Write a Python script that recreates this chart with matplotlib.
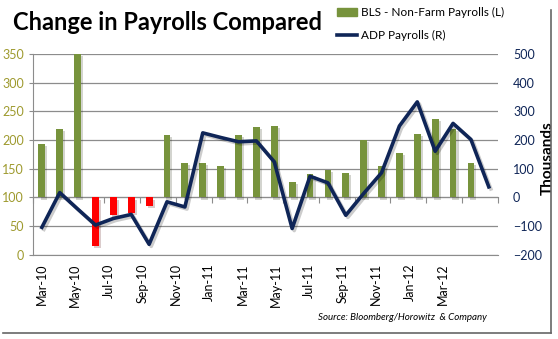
import numpy as np
import matplotlib.pyplot as plt
import matplotlib.patheffects as pe
from matplotlib.lines import Line2D
from matplotlib.patches import Patch

plt.rcParams['font.family'] = ['Lato', 'DejaVu Sans']

months = ['Mar-10', 'Apr-10', 'May-10', 'Jun-10', 'Jul-10', 'Aug-10', 'Sep-10',
          'Oct-10', 'Nov-10', 'Dec-10', 'Jan-11', 'Feb-11', 'Mar-11', 'Apr-11',
          'May-11', 'Jun-11', 'Jul-11', 'Aug-11', 'Sep-11', 'Oct-11', 'Nov-11',
          'Dec-11', 'Jan-12', 'Feb-12', 'Mar-12', 'Apr-12']
# BLS bars, read on the left axis (drawn from the 100 line)
bls = [193, 219, 350, 16, 70, 73, 86, 209, 160, 160, 155, 209, 223, 225,
       127, 141, 148, 143, 200, 155, 177, 210, 236, 220, 160, np.nan]
# ADP line, right axis
adp = [-104, 17, -40, -96, -73, -59, -163, -15, -33, 225, 209, 194, 197, 124,
       -108, 74, 51, -62, 14, 86, 249, 333, 161, 258, 202, 37]
tick_labels = months[::2]

green = '#77933C'
red = '#FF0000'
navy = '#0F2557'
olive = '#9E9A2E'
grid = '#8C8C8C'

fig = plt.figure(figsize=(5.58, 3.39), dpi=100)
ax = fig.add_axes([0.059, 0.248, 0.833, 0.593])

x = np.arange(len(months))
bls = np.array(bls)
cols = [green if v >= 100 else red for v in np.nan_to_num(bls, nan=100)]
ax.bar(x, bls - 100, bottom=100, width=0.38, color=cols,
       path_effects=[pe.SimplePatchShadow(offset=(1.5, -1.5), alpha=0.2), pe.Normal()])

ax.set_xlim(-0.5, len(months) - 0.5)
ax.set_ylim(0, 350)
ax.set_yticks(range(0, 351, 50))
ax.grid(axis='y', color=grid, lw=0.9)
ax.set_axisbelow(True)
for s in ['top', 'right']:
    ax.spines[s].set_visible(False)
ax.spines['left'].set_color(grid)
ax.spines['bottom'].set_color(grid)
ax.tick_params(axis='y', color=grid, labelcolor=olive, length=3, labelsize=9)

# labels every other month (Excel squeezes them a bit)
ax.set_xticks(np.arange(len(tick_labels)) * 1.87)
ax.set_xticklabels(tick_labels, rotation=90)
ax.tick_params(axis='x', length=0, labelsize=9, pad=6)

# category axis crossing at 100
sec = ax.secondary_xaxis(100 / 350)
sec.set_xticks(np.arange(-0.5, len(months), 2))
sec.set_xticklabels([])
sec.tick_params(direction='out', length=4, color=grid)
sec.spines['bottom'].set_color(grid)

ax2 = ax.twinx()
ax2.plot(x, adp, color=navy, lw=2.6, solid_joinstyle='round',
         path_effects=[pe.SimpleLineShadow(offset=(1.5, -1.5), alpha=0.2), pe.Normal()])
ax2.set_ylim(-200, 500)
ax2.set_yticks(range(-200, 501, 100))
ax2.tick_params(axis='y', length=0, labelcolor=navy, labelsize=9, pad=11)
for s in ax2.spines.values():
    s.set_visible(False)
ax2.set_ylabel('Thousands', fontweight='bold', fontsize=11)
ax2.yaxis.set_label_coords(1.092, 0.48)

fig.text(0.023, 0.935, 'Change in Payrolls Compared', fontsize=17,
         fontweight='bold', va='center')

handles = [Patch(color=green), Line2D([], [], color=navy, lw=2.6)]
fig.legend(handles, ['BLS - Non-Farm Payrolls (L)', 'ADP Payrolls (R)'],
           loc='upper left', bbox_to_anchor=(0.585, 1.01), frameon=False,
           fontsize=8.5, handlelength=1.7, labelspacing=1.0, handletextpad=0.3)

fig.text(0.873, 0.056, 'Source: Bloomberg/Horowitz  & Company', ha='right',
         style='italic', fontsize=7)

# frame shadow on the right and bottom
fig.add_artist(Line2D([0.988, 0.988], [0.017, 0.97], transform=fig.transFigure,
                      color='#666666', lw=1.2))
fig.add_artist(Line2D([0.005, 0.988], [0.017, 0.017], transform=fig.transFigure,
                      color='#666666', lw=1.2))

fig.savefig('out.png', dpi=100)
